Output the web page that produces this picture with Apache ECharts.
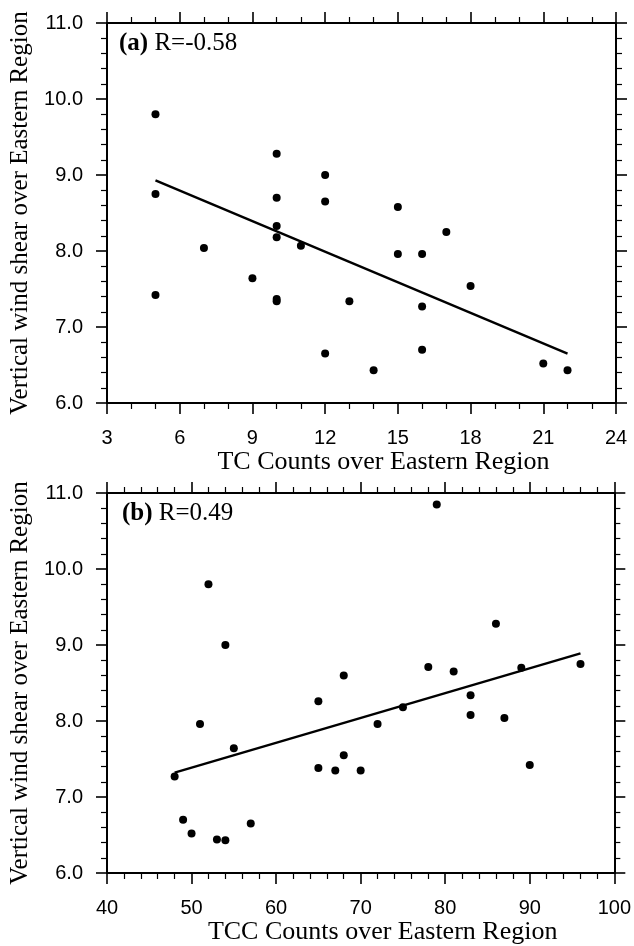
<!DOCTYPE html>
<html>
<head>
<meta charset="utf-8">
<script src="https://cdn.jsdelivr.net/npm/echarts@6/dist/echarts.min.js"></script>
<style>html,body{margin:0;padding:0;background:#fff}#c{width:634px;height:946px}</style>
</head>
<body>
<div id="c"></div>
<script>
// Panel (a): TC counts vs vertical wind shear
const tcCounts = [5, 5, 5, 7, 9, 10, 10, 10, 10, 10, 10, 11, 12, 12, 12, 13, 14, 15, 15, 16, 16, 16, 17, 18, 21, 22];
const shearA   = [9.80, 8.75, 7.42, 8.04, 7.64, 9.28, 8.70, 8.33, 8.18, 7.37, 7.34, 8.07, 9.00, 8.65, 6.65, 7.34, 6.43, 8.58, 7.96, 7.96, 7.27, 6.70, 8.25, 7.54, 6.52, 6.43];
const fitAx = [5, 22];
const fitAy = [8.93, 6.65];
const labelA = 'R=-0.58';

// Panel (b): TCC counts vs vertical wind shear
const tccCounts = [48, 49, 50, 51, 52, 53, 54, 54, 55, 57, 65, 65, 67, 68, 68, 70, 72, 75, 78, 79, 81, 83, 83, 86, 87, 89, 90, 96];
const shearB    = [7.27, 6.70, 6.52, 7.96, 9.80, 6.44, 9.00, 6.43, 7.64, 6.65, 8.26, 7.38, 7.35, 8.60, 7.55, 7.35, 7.96, 8.18, 8.71, 10.85, 8.65, 8.34, 8.08, 9.28, 8.04, 8.70, 7.42, 8.75];
const fitBx = [48, 96];
const fitBy = [7.32, 8.89];
const labelB = 'R=0.49';

const xTicksA = [3, 6, 9, 12, 15, 18, 21, 24];
const xTicksB = [40, 50, 60, 70, 80, 90, 100];
const yTicks = [6.0, 7.0, 8.0, 9.0, 10.0, 11.0];

const pairs = (xs, ys) => xs.map((x, i) => [x, ys[i]]);

const SANS = 'Liberation Sans';
const SERIF = 'Liberation Serif';

function xAx(grid, ticks, minorSplit, pos, name, showLabel) {
  const min = ticks[0], max = ticks[ticks.length - 1];
  return {
    type: 'value', gridIndex: grid, position: pos, min: min, max: max,
    interval: ticks[1] - ticks[0],
    axisLine: { show: true, onZero: false, lineStyle: { color: '#000', width: 2 } },
    axisTick: { show: true, inside: false, length: 11, lineStyle: { color: '#000', width: 1.6 } },
    minorTick: { show: true, splitNumber: minorSplit, length: 6, lineStyle: { color: '#000', width: 1.2 } },
    splitLine: { show: false },
    axisLabel: { show: showLabel, color: '#000', fontFamily: SANS, fontSize: 20, margin: 25 },
    name: showLabel ? name : '',
    nameLocation: 'middle', nameGap: 45,
    nameTextStyle: { color: '#000', fontFamily: SERIF, fontSize: 26, padding: [0, 0, 0, 44] }
  };
}
function yAx(grid, pos, showLabel) {
  return {
    type: 'value', gridIndex: grid, position: pos, min: yTicks[0], max: yTicks[yTicks.length - 1],
    interval: 1,
    axisLine: { show: true, onZero: false, lineStyle: { color: '#000', width: 2 } },
    axisTick: { show: true, inside: false, length: 11, lineStyle: { color: '#000', width: 1.6 } },
    minorTick: { show: true, splitNumber: 5, length: 6, lineStyle: { color: '#000', width: 1.2 } },
    splitLine: { show: false },
    axisLabel: { show: showLabel, color: '#000', fontFamily: SANS, fontSize: 20, margin: 24,
                 formatter: v => v.toFixed(1) },
    name: showLabel ? 'Vertical wind shear over Eastern Region' : '',
    nameLocation: 'middle', nameGap: 72, nameRotate: 90,
    nameTextStyle: { color: '#000', fontFamily: SERIF, fontSize: 25 }
  };
}

const chart = echarts.init(document.getElementById('c'), null, { renderer: 'canvas' });
chart.setOption({
  animation: false,
  backgroundColor: '#fff',
  title: [
    { text: '{b|(a)} ' + labelA, left: 114, top: 26,
      textStyle: { color: '#000', fontFamily: SERIF, fontSize: 25, fontWeight: 'normal',
        rich: { b: { fontFamily: SERIF, fontSize: 25, fontWeight: 'bold', color: '#000' } } } },
    { text: '{b|(b)} ' + labelB, left: 117, top: 496,
      textStyle: { color: '#000', fontFamily: SERIF, fontSize: 25, fontWeight: 'normal',
        rich: { b: { fontFamily: SERIF, fontSize: 25, fontWeight: 'bold', color: '#000' } } } }
  ],
  grid: [
    { left: 107, top: 23, width: 509, height: 380 },
    { left: 107, top: 493, width: 509, height: 380 }
  ],
  xAxis: [
    xAx(0, xTicksA, 3, 'bottom', 'TC Counts over Eastern Region', true),
    xAx(0, xTicksA, 3, 'top', '', false),
    xAx(1, xTicksB, 5, 'bottom', 'TCC Counts over Eastern Region', true),
    xAx(1, xTicksB, 5, 'top', '', false)
  ],
  yAxis: [
    yAx(0, 'left', true),
    yAx(0, 'right', false),
    yAx(1, 'left', true),
    yAx(1, 'right', false)
  ],
  series: [
    { type: 'scatter', xAxisIndex: 0, yAxisIndex: 0, data: pairs(tcCounts, shearA),
      symbol: 'circle', symbolSize: 8, itemStyle: { color: '#000', opacity: 1 } },
    { type: 'line', xAxisIndex: 0, yAxisIndex: 0, data: pairs(fitAx, fitAy),
      symbol: 'none', lineStyle: { color: '#000', width: 2.4 } },
    { type: 'scatter', xAxisIndex: 2, yAxisIndex: 2, data: pairs(tccCounts, shearB),
      symbol: 'circle', symbolSize: 8, itemStyle: { color: '#000', opacity: 1 } },
    { type: 'line', xAxisIndex: 2, yAxisIndex: 2, data: pairs(fitBx, fitBy),
      symbol: 'none', lineStyle: { color: '#000', width: 2.4 } }
  ]
});
</script>
</body>
</html>
